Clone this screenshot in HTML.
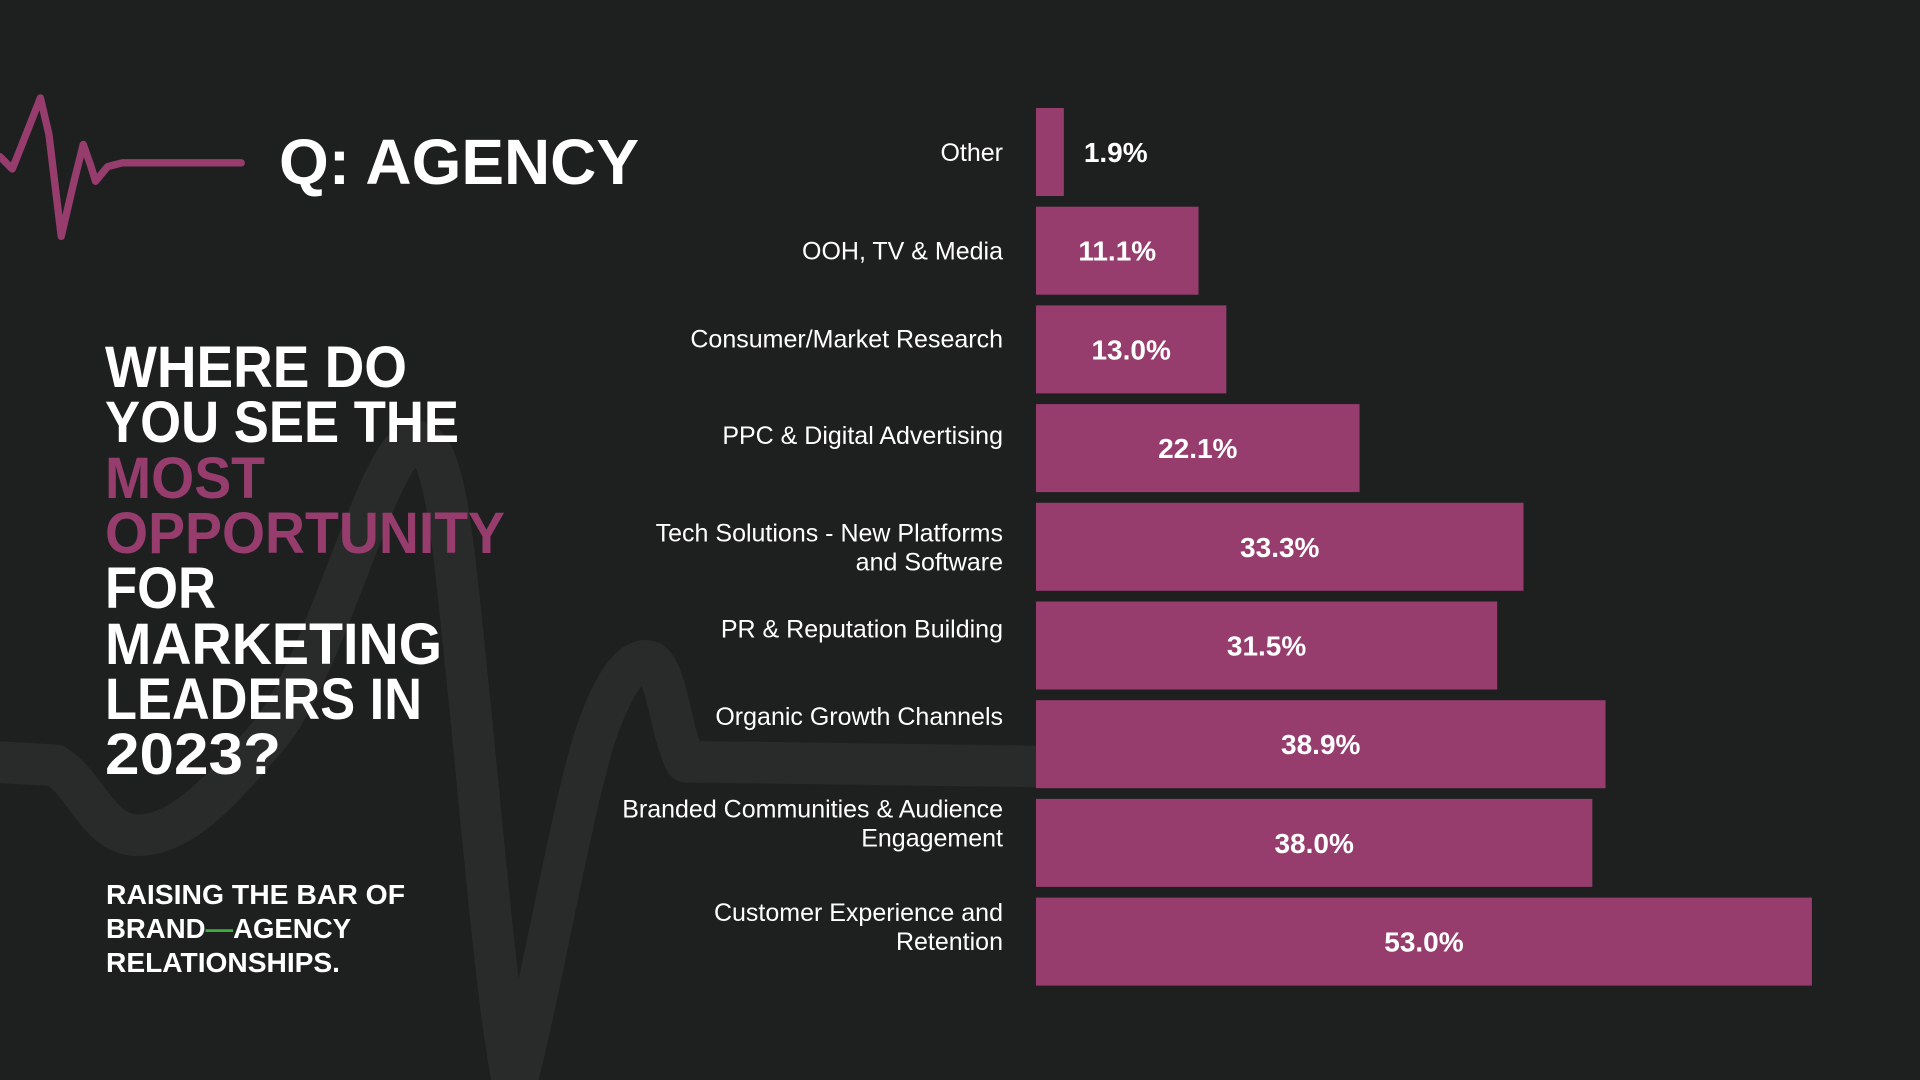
<!DOCTYPE html>
<html><head><meta charset="utf-8"><style>
html,body{margin:0;padding:0;background:#1e2020;}
body{width:1920px;height:1080px;overflow:hidden;position:relative;font-family:"Liberation Sans",sans-serif;}
svg{position:absolute;left:0;top:0;}
</style></head><body>
<svg id="bg" width="1920" height="1080">
  <g transform="scale(1.2245)">
    <path d="M-10 622 L45 625 C70 640,80 680,110 682 C150 684,185 640,220 600 C265 545,305 380,335 362 C360 350,368 420,378 520 C392 650,405 820,420 890 C440 820,470 640,490 590 C505 550,520 535,532 541 C545 550,548 600,560 622 L850 626" fill="none" stroke="#282b2a" stroke-width="34" stroke-linecap="round" stroke-linejoin="round"/>
    <path d="M0 128 L10 138 L18 118 L33 80 L40 110 L50 193 L60 150 L68 118 L74 135 L78 148 L88 136 L100 133 L197 133" fill="none" stroke="#963d6e" stroke-width="6" stroke-linecap="round" stroke-linejoin="round"/>
  </g>
  <text x="279" y="184" font-family="Liberation Sans" font-weight="bold" font-size="64" fill="#fff" textLength="360" lengthAdjust="spacingAndGlyphs">Q: AGENCY</text>
  <g font-family="Liberation Sans" font-weight="bold" font-size="58" fill="#fff">
    <text x="105" y="387" textLength="302" lengthAdjust="spacingAndGlyphs">WHERE DO</text>
    <text x="105" y="442" textLength="354" lengthAdjust="spacingAndGlyphs">YOU SEE THE</text>
    <text x="105" y="498" textLength="160" lengthAdjust="spacingAndGlyphs" fill="#963d6e">MOST</text>
    <text x="105" y="553" textLength="400" lengthAdjust="spacingAndGlyphs" fill="#963d6e">OPPORTUNITY</text>
    <text x="105" y="608" textLength="111" lengthAdjust="spacingAndGlyphs">FOR</text>
    <text x="105" y="664" textLength="337" lengthAdjust="spacingAndGlyphs">MARKETING</text>
    <text x="105" y="719" textLength="317" lengthAdjust="spacingAndGlyphs">LEADERS IN</text>
    <text x="105" y="774" textLength="176" lengthAdjust="spacingAndGlyphs">2023?</text>
  </g>
  <g font-family="Liberation Sans" font-weight="bold" font-size="28" fill="#fff">
    <text x="106" y="904" textLength="299" lengthAdjust="spacingAndGlyphs">RAISING THE BAR OF</text>
    <text x="106" y="938" textLength="245" lengthAdjust="spacingAndGlyphs">BRAND<tspan fill="#3fae3f">—</tspan>AGENCY</text>
    <text x="106" y="972" textLength="234" lengthAdjust="spacingAndGlyphs">RELATIONSHIPS.</text>
  </g>
</svg>
<svg id="chart" width="1920" height="1080"></svg>
<script>
const categories = [["Other"],["OOH, TV & Media"],["Consumer/Market Research"],["PPC & Digital Advertising"],["Tech Solutions - New Platforms","and Software"],["PR & Reputation Building"],["Organic Growth Channels"],["Branded Communities & Audience","Engagement"],["Customer Experience and","Retention"]];
const values = [1.9, 11.1, 13.0, 22.1, 33.3, 31.5, 38.9, 38.0, 53.0];
const valueLabels = ["1.9%","11.1%","13.0%","22.1%","33.3%","31.5%","38.9%","38.0%","53.0%"];

const NS = "http://www.w3.org/2000/svg";
const svg = document.getElementById("chart");
const x0 = 1036, pxPerUnit = 14.64;
const xScale = v => x0 + v * pxPerUnit;
const top0 = 108, pitch = 98.7, barH = 88;
const yScale = i => top0 + i * pitch;
const labelShift = [0, 0, -11, -13, 0, -17, -28, -20, -15];

values.forEach((v, i) => {
  const y = yScale(i);
  const w = xScale(v) - x0;
  const r = document.createElementNS(NS, "rect");
  r.setAttribute("x", x0); r.setAttribute("y", y);
  r.setAttribute("width", w); r.setAttribute("height", barH);
  r.setAttribute("fill", "#963d6e");
  
  
  svg.appendChild(r);

  const t = document.createElementNS(NS, "text");
  const cy = y + barH / 2;
  const inside = w > 60;
  t.setAttribute("x", inside ? x0 + w / 2 : xScale(v) + 20);
  t.setAttribute("y", cy + 10);
  t.setAttribute("text-anchor", inside ? "middle" : "start");
  t.setAttribute("font-family", "Liberation Sans, sans-serif");
  t.setAttribute("font-weight", "bold");
  t.setAttribute("font-size", "28");
  t.setAttribute("fill", "#fff");
  t.textContent = valueLabels[i];
  
  
  svg.appendChild(t);

  const lines = categories[i];
  const lt = document.createElementNS(NS, "text");
  lt.setAttribute("text-anchor", "end");
  lt.setAttribute("font-family", "Liberation Sans, sans-serif");
  lt.setAttribute("font-size", "25");
  lt.setAttribute("fill", "#fff");
  
  
  const lineH = 29;
  const startY = cy + labelShift[i] - (lines.length - 1) * lineH / 2 + 9;
  lines.forEach((ln, k) => {
    const ts = document.createElementNS(NS, "tspan");
    ts.setAttribute("x", 1003);
    ts.setAttribute("y", startY + k * lineH);
    ts.textContent = ln;
    lt.appendChild(ts);
  });
  svg.appendChild(lt);
});
</script>
</body></html>
